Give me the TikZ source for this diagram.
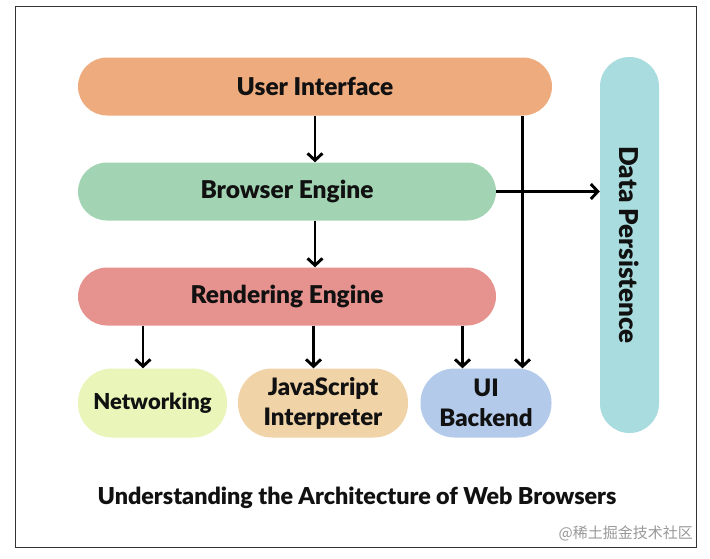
\documentclass[tikz,border=0pt]{standalone}
\usepackage{fontspec}
\setmainfont{Lato}[UprightFont=* Black]
\newfontfamily\cjkfont{Noto Sans CJK SC}
\usetikzlibrary{arrows.meta}
\definecolor{cUI}{HTML}{EEAB7E}
\definecolor{cBE}{HTML}{A2D4B4}
\definecolor{cRE}{HTML}{E6938F}
\definecolor{cNet}{HTML}{E9F5B9}
\definecolor{cJS}{HTML}{F1D3A8}
\definecolor{cUIB}{HTML}{B4CAEB}
\definecolor{cDP}{HTML}{A8DCDE}
\definecolor{txt}{HTML}{111111}
\tikzset{
  wide/.style={rounded corners=29pt, minimum height=58pt, inner sep=0pt, font=\fontsize{24.5}{28}\selectfont, text=txt},
  small/.style={rounded corners=34pt, minimum height=69pt, inner sep=0pt, align=center, font=\fontsize{24}{30}\selectfont, text=txt},
  arr/.style={line width=2.9pt, -{Straight Barb[length=7pt,width=15pt,line cap=butt]}},
}
\begin{document}
\begin{tikzpicture}[x=1pt,y=-1pt]
\useasboundingbox (0,0) rectangle (710,558);
\fill[white] (0,0) rectangle (710,558);
\draw[line width=1.5pt, draw=black!80] (15.5,6.5) rectangle (696.5,547.5);
\node[wide, fill=cUI, minimum width=474pt] (ui) at (315,86.5) {User Interface};
\node[wide, fill=cBE, minimum width=418pt] (be) at (287,191.5) {Browser Engine};
\node[wide, fill=cRE, minimum width=418pt] (re) at (287,296.5) {Rendering Engine};
\node[small, fill=cNet, minimum width=149pt, font=\fontsize{22}{26}\selectfont] (net) at (152.5,403) {Networking};
\node[small, fill=cJS, minimum width=170pt] (js) at (323,403) {JavaScript\\Interpreter};
\node[small, fill=cUIB, minimum width=131pt] (uib) at (486,403) {UI\\Backend};
\node[rounded corners=29.5pt, fill=cDP, minimum width=59pt, minimum height=376pt, inner sep=0pt] (dp) at (629.5,245) {};
\node[rotate=-90, font=\fontsize{26}{28}\selectfont, text=txt] (dpt) at (dp.center) {Data Persistence};
\coordinate (x1) at (315,0);
\coordinate (x2) at (143,0);
\coordinate (x3) at (313.5,0);
\coordinate (x4) at (462.5,0);
\coordinate (x5) at (522.5,0);
\draw[arr] (x1 |- ui.south) -- (x1 |- be.north);
\draw[arr] (x1 |- be.south) -- (x1 |- re.north);
\draw[arr] (x2 |- re.south) -- (x2 |- net.north);
\draw[arr] (x3 |- re.south) -- (x3 |- js.north);
\draw[arr] (x4 |- re.south) -- (x4 |- uib.north);
\draw[arr] (x5 |- ui.south) -- (x5 |- uib.north);
\draw[arr] (be.east) -- (dp.west |- be.east);
\node[font=\fontsize{23.3}{26}\selectfont, text=txt] (title) at (357,497.5) {Understanding the Architecture of Web Browsers};
\node[anchor=east, font=\cjkfont\fontsize{15}{17}\selectfont, text=black!40, inner sep=0pt] (wm) at (693,533) {@稀土掘金技术社区};
\end{tikzpicture}
\end{document}
